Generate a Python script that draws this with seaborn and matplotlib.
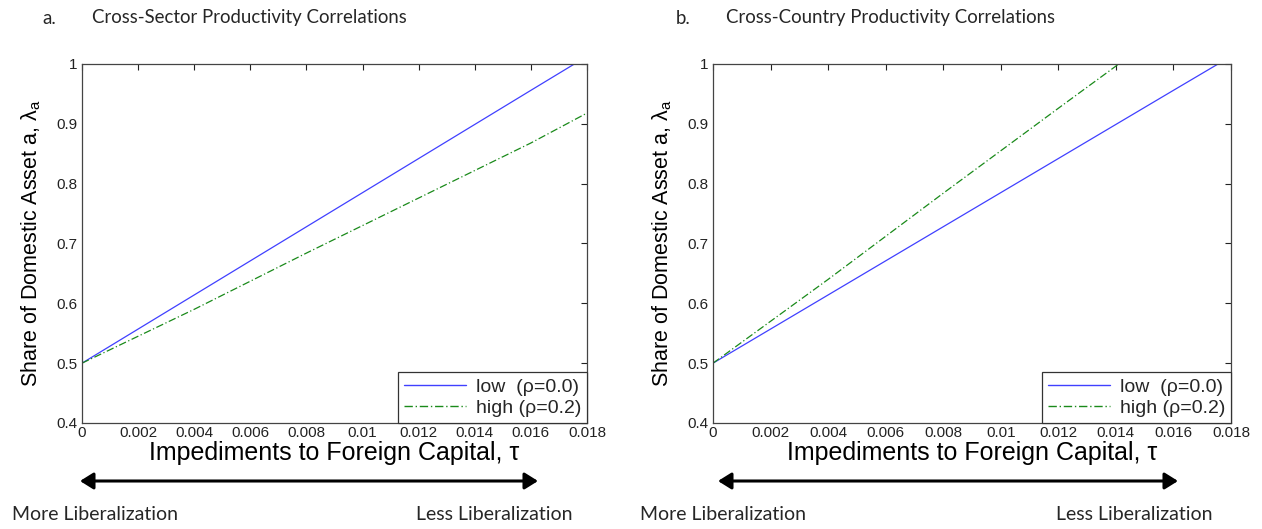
import numpy as np
import pandas as pd
import matplotlib
matplotlib.use("Agg")
import matplotlib.pyplot as plt
import seaborn as sns
from matplotlib.lines import Line2D

# ---- data ----
tau_low = [0.0, 0.002, 0.004, 0.006, 0.008, 0.010, 0.012, 0.014, 0.016, 0.01755]
low_vals = [0.500, 0.557, 0.614, 0.671, 0.728, 0.785, 0.842, 0.899, 0.956, 1.000]

tau_high_a = [0.0, 0.002, 0.004, 0.006, 0.008, 0.010, 0.012, 0.014, 0.016, 0.018]
high_vals_a = [0.500, 0.545, 0.590, 0.637, 0.684, 0.730, 0.776, 0.822, 0.868, 0.918]

tau_high_b = [0.0, 0.002, 0.004, 0.006, 0.008, 0.010, 0.012, 0.0141]
high_vals_b = [0.500, 0.570, 0.640, 0.712, 0.784, 0.855, 0.926, 1.000]

xticks = [0, 0.002, 0.004, 0.006, 0.008, 0.01, 0.012, 0.014, 0.016, 0.018]
xtick_labels = ["0", "0.002", "0.004", "0.006", "0.008", "0.01", "0.012", "0.014", "0.016", "0.018"]
yticks = [0.4, 0.5, 0.6, 0.7, 0.8, 0.9, 1.0]
ytick_labels = ["0.4", "0.5", "0.6", "0.7", "0.8", "0.9", "1"]

titles = [("a.", "Cross-Sector Productivity Correlations"),
          ("b.", "Cross-Country Productivity Correlations")]
series_names = ["low  (\u03c1=0.0)", "high (\u03c1=0.2)"]

sns.set_theme(style="white")
plt.rcParams['font.family'] = ['Liberation Sans', 'DejaVu Sans']
plt.rcParams['mathtext.fontset'] = 'custom'
plt.rcParams['mathtext.rm'] = 'Liberation Sans'

fig = plt.figure(figsize=(12.62, 5.29), dpi=100)
W, H = 1262, 529

def fx(px):
    return px / W

def fy(py):
    return 1 - py / H

axes_px = [(82, 587), (713, 1231)]
top_px, bot_px = 64, 423

panel_high = [(tau_high_a, high_vals_a), (tau_high_b, high_vals_b)]
blue, green = "#4040ff", "#1a8a1a"

for i, ((x0, x1), (th, hv)) in enumerate(zip(axes_px, panel_high)):
    ax = fig.add_axes([fx(x0), fy(bot_px), fx(x1 - x0), (bot_px - top_px) / H])
    df = pd.concat([
        pd.DataFrame({"tau": tau_low, "val": low_vals, "series": series_names[0]}),
        pd.DataFrame({"tau": th, "val": hv, "series": series_names[1]}),
    ])
    sns.lineplot(data=df, x="tau", y="val", hue="series", style="series",
                 palette={series_names[0]: blue, series_names[1]: green},
                 dashes={series_names[0]: "", series_names[1]: (6, 2, 1, 2)},
                 linewidth=0.9, ax=ax, legend=False)
    ax.set_xlim(0, 0.018)
    ax.set_ylim(0.4, 1.0)
    ax.set_xticks(xticks)
    ax.set_xticklabels(xtick_labels)
    ax.set_yticks(yticks)
    ax.set_yticklabels(ytick_labels)
    ax.tick_params(direction="in", length=4, width=0.8, top=True, right=True,
                   labelsize=11, colors="#222222", pad=2)
    ax.tick_params(axis="y", pad=3)
    for s in ax.spines.values():
        s.set_color("#444444")
        s.set_linewidth(0.9)
    ax.set_xlabel("Impediments to Foreign Capital, \u03c4", fontsize=18, labelpad=1, color="black")
    ax.set_ylabel("Share of Domestic Asset a, $\\mathrm{\\lambda_a}$", fontsize=15.5, labelpad=10, color="black")
    handles = [Line2D([], [], color=blue, lw=1.0),
               Line2D([], [], color=green, lw=1.0, dashes=(6, 2, 1, 2))]
    leg = ax.legend(handles, series_names, loc="lower right", fontsize=14,
                    frameon=True, fancybox=False, framealpha=1, borderaxespad=0.0,
                    handlelength=3.2, handletextpad=0.5, borderpad=0.3, labelspacing=0.2)
    leg.get_frame().set_edgecolor("#333333")
    leg.get_frame().set_linewidth(0.9)

    # titles
    tx0 = [42, 676][i]
    fig.text(fx(tx0), fy(18), titles[i][0], fontsize=13.4, family=["Lato", "DejaVu Sans"], va="center")
    fig.text(fx(tx0 + 50), fy(18), titles[i][1], fontsize=13.4, family=["Lato", "DejaVu Sans"], va="center")

    # arrows and annotation
    ax0 = [80, 718][i]
    ax1 = [538, 1178][i]
    fig.add_artist(matplotlib.patches.FancyArrowPatch(
        (fx(ax0), fy(481)), (fx(ax1), fy(481)), transform=fig.transFigure,
        arrowstyle="<|-|>,head_length=8,head_width=5", color="black", lw=2.2,
        shrinkA=0, shrinkB=0))
    ml = [12, 640][i]
    ll = [573, 1213][i]
    fig.text(fx(ml), fy(515), "More Liberalization", fontsize=14,
             family=["Lato", "DejaVu Sans"], va="center", ha="left")
    fig.text(fx(ll), fy(515), "Less Liberalization", fontsize=14,
             family=["Lato", "DejaVu Sans"], va="center", ha="right")

fig.savefig("out.png", dpi=100)
